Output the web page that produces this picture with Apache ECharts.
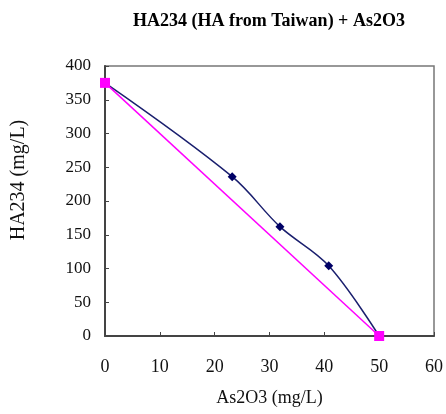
<!DOCTYPE html>
<html>
<head>
<meta charset="utf-8">
<script src="https://cdn.jsdelivr.net/npm/echarts@6/dist/echarts.min.js"></script>
<style>html,body{margin:0;padding:0;background:#fff}#c{width:446px;height:414px}</style>
</head>
<body>
<div id="c"></div>
<script>
const titleText = 'HA234 (HA from Taiwan) + As2O3';
const xName = 'As2O3 (mg/L)';
const yName = 'HA234 (mg/L)';
const measuredX = [0, 23.2, 31.9, 40.8, 50];
const measuredY = [375, 236, 162, 104, 0];
const lineX = [0, 50];
const lineY = [375, 0];

const chart = echarts.init(document.getElementById('c'), null, {renderer: 'canvas'});
const font = '"Liberation Serif", "Times New Roman", serif';
chart.setOption({
  animation: false,
  backgroundColor: '#fff',
  title: {
    text: titleText, left: 264, top: 7, textAlign: 'center',
    textStyle: {fontFamily: font, fontWeight: 'bold', fontSize: 18, color: '#000'}
  },
  grid: {left: 105, top: 66, right: 12, bottom: 78, show: true, borderColor: '#777', borderWidth: 1.5, backgroundColor: 'transparent'},
  xAxis: {
    type: 'value', min: 0, max: 60, interval: 10,
    name: xName, nameLocation: 'middle', nameGap: 53,
    nameTextStyle: {fontFamily: font, fontSize: 18, color: '#111'},
    axisLine: {show: true, onZero: false, lineStyle: {color: '#444', width: 2}},
    axisTick: {show: true, inside: true, length: 4, lineStyle: {color: '#444'}},
    axisLabel: {fontFamily: font, fontSize: 18, color: '#111', margin: 22},
    splitLine: {show: false}
  },
  yAxis: {
    type: 'value', min: 0, max: 400, interval: 50,
    name: yName, nameLocation: 'middle', nameGap: 76, nameRotate: 90,
    nameTextStyle: {fontFamily: font, fontSize: 20, color: '#111', padding: [0, 0, 0, 42]},
    axisLine: {show: true, onZero: false, lineStyle: {color: '#444', width: 2}},
    axisTick: {show: true, inside: true, length: 4, lineStyle: {color: '#444'}},
    axisLabel: {fontFamily: font, fontSize: 17, color: '#111', margin: 14},
    splitLine: {show: false}
  },
  series: [
    {
      type: 'line', smooth: 0.35,
      data: measuredX.map((x, i) => [x, measuredY[i]]),
      symbol: 'diamond', symbolSize: 9,
      lineStyle: {color: '#1a1f6e', width: 1.5},
      itemStyle: {color: '#000066'},
      z: 2
    },
    {
      type: 'line',
      data: lineX.map((x, i) => [x, lineY[i]]),
      symbol: 'rect', symbolSize: 10,
      lineStyle: {color: '#ff00ff', width: 1.5},
      itemStyle: {color: '#ff00ff'},
      z: 3
    }
  ]
});
</script>
</body>
</html>
